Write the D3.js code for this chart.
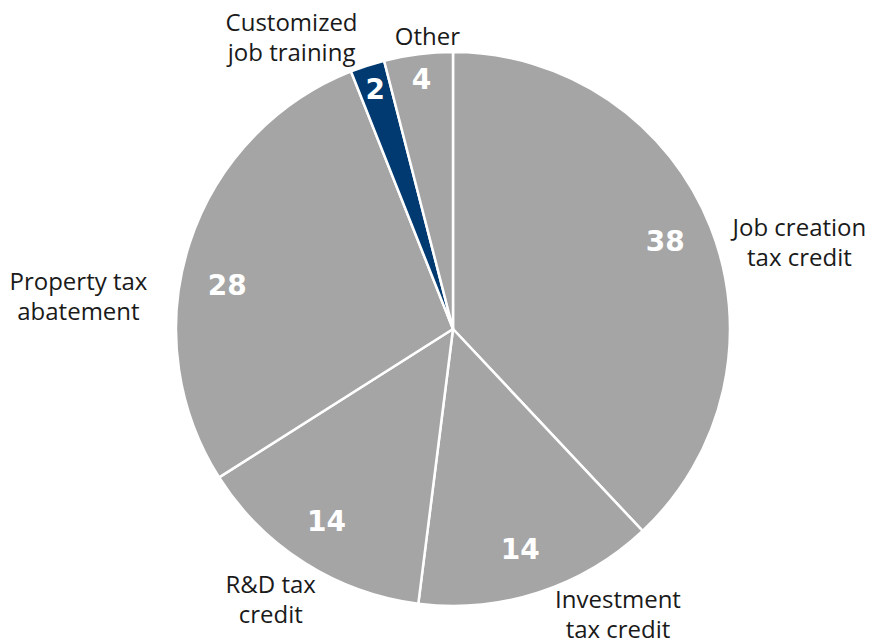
<!DOCTYPE html>
<html>
<head>
<meta charset="utf-8">
<script src="https://cdn.jsdelivr.net/npm/d3@7"></script>
<style>
  body { margin: 0; background: #fff; }
  .cat { font-family: "Open Sans", sans-serif; font-size: 24px; fill: #1a1a1a; }
  .val { font-family: "DejaVu Sans", sans-serif; font-size: 28px; font-weight: bold; fill: #fff; }
</style>
</head>
<body>
<script>
// chart data, clockwise from 12 o'clock
var categories = ['Job creation|tax credit', 'Investment|tax credit', 'R&D tax|credit',
                  'Property tax|abatement', 'Customized|job training', 'Other'];
var values = [38, 14, 14, 28, 2, 4];
var highlight = [false, false, false, false, true, false];

// where the outside labels sit: angle (deg, clockwise from top) and distance from centre
var catPlace = [[76, 357], [150, 330], [214, 326], [275, 376], [331, 333], [355, 294]];
// small nudges for the value labels (deg)
var valNudge = [-1, 1, 1, -7, 0, 0];

window.onload = drawPie();

function drawPie(){
    var width = 876,
        height = 641,
        cx = 453,
        cy = 329,
        radius = 277;

    var svg = d3.select('body')
        .append('svg')
        .attr('width', width)
        .attr('height', height);

    var g = svg.append('g')
        .attr('transform', 'translate(' + cx + ',' + cy + ')');

    var pie = d3.pie().sort(null).value(function(d){ return d; });
    var arcs = pie(values);

    var arc = d3.arc().innerRadius(0).outerRadius(radius);

    g.selectAll('.slice')
        .data(arcs)
        .enter()
        .append('path')
        .attr('class', 'slice')
        .attr('d', arc)
        .attr('fill', function(d, i){ return highlight[i] ? '#003a70' : '#a5a5a5'; })
        .attr('stroke', '#fff')
        .attr('stroke-width', 2.5)
        .attr('stroke-linejoin', 'round');

    // value labels inside the slices
    g.selectAll('.val')
        .data(arcs)
        .enter()
        .append('text')
        .attr('class', 'val')
        .attr('text-anchor', 'middle')
        .attr('dy', '0.36em')
        .attr('x', function(d, i){
            var a = (d.startAngle + d.endAngle) / 2 + valNudge[i] * Math.PI / 180;
            var r = d.value < 5 ? 252 : 230;
            return r * Math.sin(a);
        })
        .attr('y', function(d, i){
            var a = (d.startAngle + d.endAngle) / 2 + valNudge[i] * Math.PI / 180;
            var r = d.value < 5 ? 252 : 230;
            return -r * Math.cos(a);
        })
        .text(function(d){ return d.value; });

    // category labels outside
    var cats = g.selectAll('.cat')
        .data(categories)
        .enter()
        .append('text')
        .attr('class', 'cat')
        .attr('text-anchor', 'middle')
        .attr('transform', function(d, i){
            var a = catPlace[i][0] * Math.PI / 180, r = catPlace[i][1];
            return 'translate(' + (r * Math.sin(a)) + ',' + (-r * Math.cos(a)) + ')';
        });

    cats.each(function(d){
        var lines = d.split('|');
        var t = d3.select(this);
        lines.forEach(function(line, k){
            t.append('tspan')
                .attr('x', 0)
                .attr('y', (k - (lines.length - 1) / 2) * 30)
                .attr('dy', '0.35em')
                .text(line);
        });
    });
}
</script>
</body>
</html>
